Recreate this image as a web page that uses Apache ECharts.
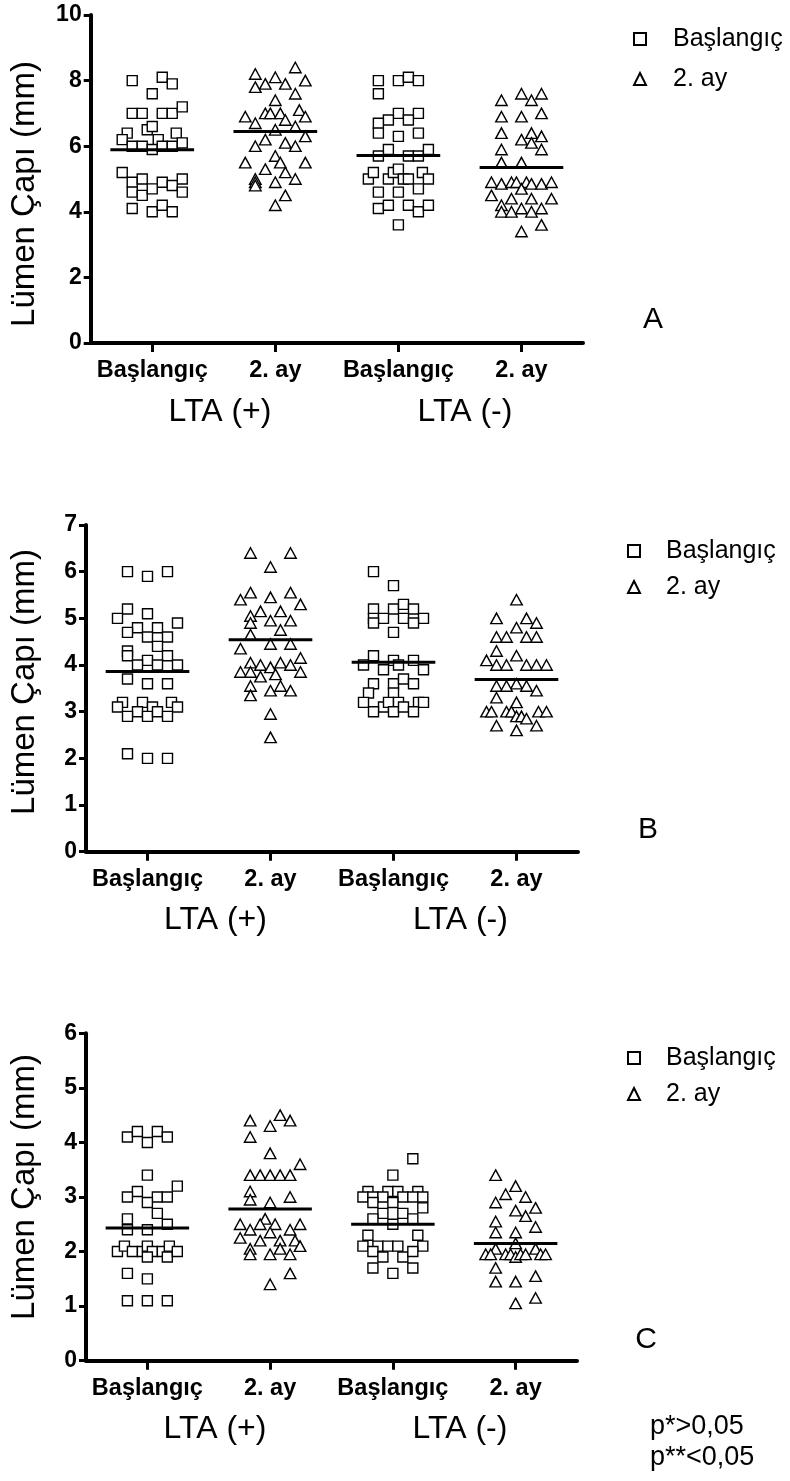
<!DOCTYPE html>
<html><head><meta charset="utf-8">
<script src="https://cdn.jsdelivr.net/npm/echarts@6/dist/echarts.min.js"></script>
<style>html,body{margin:0;padding:0;background:#fff}#c{width:790px;height:1481px}</style>
</head><body><div id="c"></div>
<script>
// ---------- texts ----------
const categories = ['Başlangıç', '2. ay', 'Başlangıç', '2. ay'];
const groupLabels = ['LTA (+)', 'LTA (-)'];
const seriesNames = ['Başlangıç', '2. ay'];
const yAxisTitle = 'Lümen Çapı (mm)';
const panelLetters = ['A', 'B', 'C'];
const pNotes = ['p*>0,05', 'p**<0,05'];

// ---------- y tick labels ----------
const yTicksA = [0, 2, 4, 6, 8, 10];
const yTicksB = [0, 1, 2, 3, 4, 5, 6, 7];
const yTicksC = [0, 1, 2, 3, 4, 5, 6];

// ---------- data: [jitter column, value in mm] ----------
// Panel A
const A_basPos = [[-2,8.0],[1,8.1],[2,7.9],[0,7.6],[-2,7.0],[-1,7.0],[1,7.0],[2,7.0],[3,7.2],[-0.5,6.5],[0,6.6],[-2.5,6.4],[2.4,6.4],[-3,6.2],[0.6,6.2],[-2,6.0],[-1,6.0],[0,5.9],[1,6.0],[2,6.0],[3,6.1],[-3,5.2],[-2,4.9],[-1,5.0],[1,4.9],[3,5.0],[-2,4.6],[-1,4.5],[0,4.7],[2,4.8],[3,4.6],[-2,4.1],[0,4.0],[1,4.2],[2,4.0]];
const A_ayPos = [[2,8.4],[-2,8.2],[0,8.1],[3,8.0],[-1,7.9],[1,7.9],[-2,7.8],[2,7.6],[0,7.4],[2.4,7.1],[-3,6.9],[-1,7.0],[-0.5,7.0],[0.5,7.0],[3,6.9],[-2,6.7],[1,6.8],[2,6.6],[0,6.5],[3,6.3],[-1,6.2],[-2,6.0],[1,6.1],[2,6.0],[0,5.7],[-3,5.5],[0.5,5.5],[3,5.5],[-1,5.3],[1,5.2],[-2,5.0],[-2,4.9],[-2,4.8],[0,4.9],[2,5.0],[1,4.5],[0,4.2]];
const A_basNeg = [[-2,8.0],[0,8.0],[1,8.1],[2,8.0],[-2,7.6],[0,7.0],[2,7.0],[-1,6.8],[1,6.8],[-2,6.7],[-2,6.4],[0,6.3],[2,6.4],[-1,5.9],[-2,5.7],[1,5.7],[2,5.7],[3,5.9],[-3,5.0],[-2.5,5.2],[-1,5.0],[-0.5,5.2],[0,5.3],[0.5,5.0],[1,5.0],[2.4,5.2],[3,5.0],[-2,4.6],[0,4.6],[2,4.7],[-2,4.1],[-1,4.2],[1,4.2],[2,4.0],[3,4.2],[0,3.6]];
const A_ayNeg = [[0,7.6],[2,7.6],[1,7.4],[-2,7.4],[-2,6.9],[0,6.9],[2,7.0],[-2,6.4],[1,6.4],[2,6.3],[0,6.2],[1,6.1],[2,5.9],[-2,5.9],[-2,5.5],[0,5.5],[-3,4.9],[-2,4.85],[-1,4.9],[-0.5,4.9],[0.5,4.9],[1,4.85],[2,4.85],[3,4.9],[0,4.7],[-3,4.5],[-1,4.4],[1,4.4],[3,4.4],[-2,4.2],[-2,4.0],[-1,4.0],[0,4.1],[1,4.0],[2,4.1],[2,3.6],[0,3.4]];
const A_means = [5.89, 6.45, 5.72, 5.35];
// Panel B
const B_basPos = [[-2,6.0],[0,5.9],[2,6.0],[-2,5.2],[-3,5.0],[0,5.1],[3,4.9],[-1,4.8],[1,4.8],[-2,4.7],[0,4.6],[2,4.6],[1,4.4],[-2,4.3],[-2,4.2],[2,4.2],[0,4.1],[-1,4.0],[1,4.0],[3,4.0],[-2,3.7],[0,3.6],[2,3.6],[-2.5,3.2],[-3,3.1],[-0.5,3.2],[-1,3.0],[0.5,3.1],[2.4,3.2],[3,3.1],[-2,2.9],[0,2.9],[1,3.0],[2,2.9],[-2,2.1],[0,2.0],[2,2.0]];
const B_ayPos = [[-2,6.4],[2,6.4],[0,6.1],[-2,5.55],[2,5.55],[-3,5.4],[0,5.45],[-1,5.15],[1,5.15],[3,5.3],[-2,5.05],[-2,4.9],[0,4.95],[2,4.95],[1,4.75],[-2,4.65],[-3,4.35],[0,4.45],[2,4.45],[3,4.15],[-2,4.05],[-1,4.0],[1,4.05],[2,4.0],[-3,3.85],[-2,3.85],[0,3.95],[0.5,3.8],[3,3.85],[-1,3.75],[-2,3.55],[1,3.55],[0,3.45],[2,3.45],[-2,3.35],[0,2.95],[0,2.45]];
const B_basNeg = [[-2,6.0],[0,5.7],[-2,5.2],[0,5.2],[1,5.3],[2,5.2],[-2,5.0],[-1,5.0],[1,5.0],[3,5.0],[2,4.9],[-2,4.9],[0,4.7],[-2,4.2],[-3,4.0],[0,4.1],[2,4.1],[-1,3.9],[0.5,4.0],[3,3.9],[-2,3.6],[0,3.6],[1,3.7],[2,3.6],[-2.5,3.4],[0,3.4],[-3,3.2],[-1,3.1],[-0.5,3.2],[0.5,3.2],[2.5,3.2],[3,3.2],[-2,3.0],[0,3.0],[1,3.1],[2,3.0]];
const B_ayNeg = [[0,5.4],[-2,5.0],[1,5.0],[2,4.9],[0,4.8],[-2,4.6],[-1,4.6],[1,4.6],[2,4.6],[-2,4.3],[0,4.2],[-3,4.1],[-2,4.0],[-1,4.0],[1,4.0],[2,4.0],[3,4.0],[0,3.6],[-2,3.55],[-1,3.55],[1,3.55],[2,3.45],[-2,3.3],[0,3.2],[-3,3.0],[-2.5,3.0],[-1,3.0],[-0.5,3.0],[0,2.9],[0.5,2.9],[1,2.85],[2.2,3.0],[3,3.0],[-2,2.7],[0,2.6],[2,2.7]];
const B_means = [3.86, 4.54, 4.06, 3.69];
// Panel C
const C_basPos = [[-2,4.1],[-1,4.2],[0,4.0],[1,4.2],[2,4.1],[0,3.4],[3,3.2],[-1,3.1],[-2,3.0],[1,3.0],[2,3.0],[0,2.9],[1,2.7],[-2,2.6],[2,2.5],[-2,2.4],[0,2.4],[-3,2.0],[-2.3,2.1],[-1.5,2.0],[-0.5,2.0],[0,2.1],[0.5,2.0],[0,1.9],[1.5,2.0],[2.2,2.1],[2,1.9],[3,2.0],[-2,1.6],[0,1.5],[-2,1.1],[0,1.1],[2,1.1]];
const C_ayPos = [[1,4.5],[-2,4.4],[2,4.4],[0,4.3],[-2,4.1],[0,3.8],[3,3.6],[-2,3.4],[-1,3.4],[0,3.4],[1,3.4],[2,3.4],[-2,3.1],[-2,2.95],[2,3.0],[0,2.9],[-0.5,2.6],[-3,2.5],[-1,2.5],[0.5,2.5],[3,2.5],[-2,2.4],[0,2.35],[2,2.4],[-3,2.25],[-1,2.2],[1,2.2],[2.5,2.2],[3,2.1],[-2,2.05],[-2,1.95],[0,1.95],[1,2.05],[2,1.95],[2,1.6],[0,1.4]];
const C_basNeg = [[2,3.7],[0,3.4],[-2.5,3.1],[-0.5,3.1],[0.5,3.1],[2.5,3.1],[-3,3.0],[-2,3.0],[-1,3.0],[1,3.0],[2,3.0],[3,3.0],[-2,2.9],[0,2.9],[3,2.8],[-1,2.7],[1,2.7],[-2,2.6],[2,2.6],[0,2.5],[-2.5,2.3],[2.5,2.3],[-3,2.1],[-1.5,2.1],[-0.5,2.1],[0.5,2.1],[3,2.1],[-2,2.0],[-1,1.9],[1,1.9],[2,2.0],[-2,1.7],[0,1.6],[2,1.7]];
const C_ayNeg = [[-2,3.4],[0,3.2],[-1,3.05],[1,3.0],[-2,2.9],[0,2.75],[2,2.8],[1,2.65],[-2,2.55],[2,2.45],[-2,2.35],[0,2.35],[0,2.15],[-2,2.05],[2,2.05],[-3,1.95],[-2.5,1.95],[-1,1.95],[-0.5,1.95],[0,1.9],[0.5,1.95],[1,1.95],[2.5,1.95],[3,1.95],[-2,1.7],[-2,1.45],[0,1.45],[2,1.55],[0,1.05],[2,1.15]];
const C_means = [2.43, 2.78, 2.50, 2.15];

// ---------- build ----------
const FONT = '"Liberation Sans", Arial, Helvetica, sans-serif';
const COL = 0.0813;      // one jitter column, in category widths
const HALF = 0.34;       // half length of mean line, in category widths

const panels = [
  { data: [A_basPos, A_ayPos, A_basNeg, A_ayNeg], means: A_means, ticks: yTicksA,
    grid: { left: 90.7, top: 15, width: 492.3, height: 328 },
    legend: { left: 633, top: 24, gap: 10, pad: 22 },
    title: [25, 194], letter: [653, 320], lta: [[220, 412], [465, 412]] },
  { data: [B_basPos, B_ayPos, B_basNeg, B_ayNeg], means: B_means, ticks: yTicksB,
    grid: { left: 86, top: 525, width: 492, height: 326.7 },
    legend: { left: 627, top: 536, gap: 6, pad: 21 },
    title: [25, 682], letter: [648, 830], lta: [[215.5, 920.5], [460.5, 920.5]] },
  { data: [C_basPos, C_ayPos, C_basNeg, C_ayNeg], means: C_means, ticks: yTicksC,
    grid: { left: 86, top: 1033.3, width: 491, height: 327.4 },
    legend: { left: 627, top: 1043, gap: 6, pad: 21 },
    title: [25, 1187], letter: [646, 1340], lta: [[215, 1429.5], [460, 1429.5]] }
];

const toXY = (arr, cat) => arr.map(([c, v]) => [cat + 0.5 + c * COL, v]);

const grids = [], xAxes = [], yAxes = [], series = [], legends = [], graphics = [];
const axisLine = { show: true, onZero: false, lineStyle: { color: '#000', width: 4 } };

panels.forEach((p, k) => {
  grids.push(Object.assign({ containLabel: false, outerBoundsMode: 'none' }, p.grid));
  xAxes.push({
    type: 'category', gridIndex: k, data: categories, boundaryGap: true,
    axisLine: axisLine,
    axisTick: { show: true, alignWithLabel: true, length: 9, lineStyle: { color: '#000', width: 3 } },
    axisLabel: { color: '#000', fontFamily: FONT, fontWeight: 'bold', fontSize: 23.5, margin: 16, interval: 0 },
    splitLine: { show: false }
  });
  xAxes.push({ type: 'value', gridIndex: k, min: 0, max: 4, show: false });
  const t = p.ticks;
  yAxes.push({
    type: 'value', gridIndex: k, min: t[0], max: t[t.length - 1], interval: t[1] - t[0],
    axisLine: axisLine,
    axisTick: { show: true, length: 7, lineStyle: { color: '#000', width: 3 } },
    axisLabel: { color: '#000', fontFamily: FONT, fontWeight: 'bold', fontSize: 23, margin: 9 },
    splitLine: { show: false }
  });
  const xi = 2 * k + 1;
  series.push({
    name: seriesNames[0], type: 'scatter', xAxisIndex: xi, yAxisIndex: k, z: 3,
    symbol: 'rect', symbolSize: 10,
    itemStyle: { color: '#fff', borderColor: '#000', borderWidth: 1.4, opacity: 1 },
    data: toXY(p.data[0], 0).concat(toXY(p.data[2], 2))
  });
  series.push({
    name: seriesNames[1], type: 'scatter', xAxisIndex: xi, yAxisIndex: k, z: 3,
    symbol: 'triangle', symbolSize: [11.5, 10.5],
    itemStyle: { color: '#fff', borderColor: '#000', borderWidth: 1.4, opacity: 1 },
    data: toXY(p.data[1], 1).concat(toXY(p.data[3], 3))
  });
  p.means.forEach((m, i) => {
    series.push({
      type: 'line', xAxisIndex: xi, yAxisIndex: k, z: 4, silent: true,
      symbol: 'none', lineStyle: { color: '#000', width: 3 },
      data: [[i + 0.5 - HALF, m], [i + 0.5 + HALF, m]]
    });
  });
  legends.push({
    orient: 'vertical', left: p.legend.left, top: p.legend.top, itemGap: p.legend.gap,
    itemWidth: 12, itemHeight: 12, padding: 0, selectedMode: false,
    data: seriesNames,
    textStyle: { color: '#000', fontFamily: FONT, fontSize: 25, lineHeight: 30, padding: [0, 0, 0, p.legend.pad] }
  });
  graphics.push({
    type: 'text', x: p.title[0], y: p.title[1], rotation: Math.PI / 2,
    style: { text: yAxisTitle, fontFamily: FONT, fontSize: 33, fill: '#000', align: 'center', verticalAlign: 'middle' }
  });
  graphics.push({
    type: 'text', x: p.letter[0], y: p.letter[1],
    style: { text: panelLetters[k], fontFamily: FONT, fontSize: 30, fill: '#000', align: 'center', verticalAlign: 'middle' }
  });
  p.lta.forEach((pos, j) => {
    graphics.push({
      type: 'text', x: pos[0], y: pos[1],
      style: { text: groupLabels[j], fontFamily: FONT, fontSize: 32, fill: '#000', align: 'center', verticalAlign: 'middle' }
    });
  });
});

pNotes.forEach((s, i) => {
  graphics.push({
    type: 'text', x: 650, y: 1427 + i * 30.5,
    style: { text: s, fontFamily: FONT, fontSize: 27, fill: '#000', align: 'left', verticalAlign: 'middle' }
  });
});

const chart = echarts.init(document.getElementById('c'), null, { renderer: 'canvas' });
chart.setOption({
  animation: false,
  backgroundColor: '#fff',
  grid: grids, xAxis: xAxes, yAxis: yAxes, series: series, legend: legends,
  graphic: graphics
});
</script>
</body></html>
